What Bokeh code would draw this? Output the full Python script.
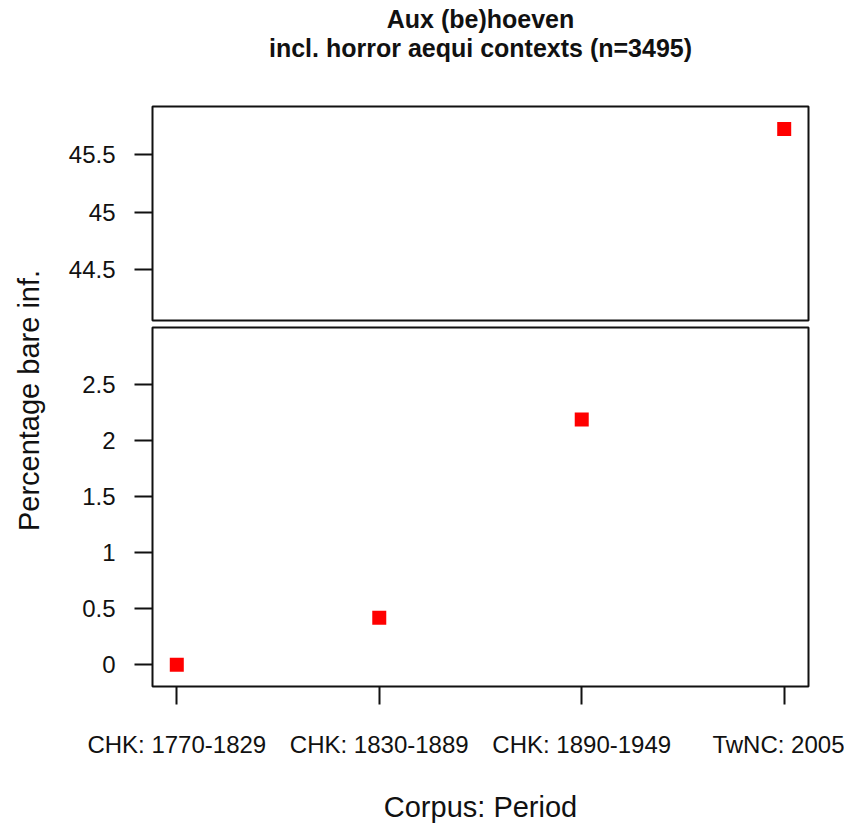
import math
from bokeh.plotting import figure
from bokeh.models import Range1d, FixedTicker, Label
from bokeh.layouts import row, column
from bokeh.embed import file_html
from bokeh.resources import INLINE

# ---- data ----
periods = ["CHK: 1770-1829", "CHK: 1830-1889", "CHK: 1890-1949", "TwNC: 2005"]
pct_bare = [0.0, 0.42, 2.19, 45.72]
lower_ticks = [0, 0.5, 1, 1.5, 2, 2.5]
upper_ticks = [44.5, 45, 45.5]
lower_lim = (-0.194, 3.012)
upper_lim = (44.058, 45.916)
title_lines = ["Aux (be)hoeven", "incl. horror aequi contexts (n=3495)"]
x_label = "Corpus: Period"
y_label = "Percentage bare inf."

FONT = "Liberation Sans"
INK = "#111111"
xpos = list(range(1, len(periods) + 1))

lo_x = [x for x, v in zip(xpos, pct_bare) if v <= lower_lim[1]]
lo_y = [v for v in pct_bare if v <= lower_lim[1]]
hi_x = [x for x, v in zip(xpos, pct_bare) if v >= upper_lim[0]]
hi_y = [v for v in pct_bare if v >= upper_lim[0]]

xr = Range1d(0.88, 4.12)


def style_y(p, ticks):
    ax = p.yaxis[0]
    ax.ticker = FixedTicker(ticks=ticks)
    ax.major_label_overrides = {t: ("%g" % t) for t in ticks}
    ax.axis_line_color = None
    ax.major_tick_in = 0
    ax.major_tick_out = 18
    ax.major_tick_line_width = 2
    ax.major_tick_line_color = INK
    ax.minor_tick_line_color = None
    ax.major_label_standoff = 19
    ax.major_label_text_font = FONT
    ax.major_label_text_font_size = "24px"
    ax.major_label_text_color = INK


def base(p):
    p.grid.visible = False
    p.outline_line_color = INK
    p.outline_line_width = 2
    p.background_fill_color = "white"
    p.border_fill_color = "white"


def blank(w, h):
    p = figure(width=w, height=h, x_axis_type=None, y_axis_type=None,
               toolbar_location=None, output_backend="svg", min_border=0,
               x_range=Range1d(0, 1), y_range=Range1d(0, 1))
    p.outline_line_color = None
    p.grid.visible = False
    return p


# ---- title strip ----
p_title = blank(844, 64)
for t, yy in zip(title_lines, [46, 17]):
    p_title.add_layout(Label(x=480, y=yy, x_units="screen", y_units="screen",
                             text=t, text_align="center", text_baseline="middle",
                             text_font=FONT, text_font_size="25px",
                             text_font_style="bold", text_color=INK))

# ---- left strip holding the shared y label ----
p_lab = blank(48, 761)
p_lab.add_layout(Label(x=28, y=425, x_units="screen", y_units="screen",
                       text=y_label, angle=math.pi / 2, text_align="center",
                       text_baseline="middle", text_font=FONT,
                       text_font_size="29px", text_color=INK))

# ---- upper panel ----
p1 = figure(width=796, height=259, x_range=xr, y_range=Range1d(*upper_lim),
            x_axis_location=None, toolbar_location=None, output_backend="svg",
            min_border_left=104, min_border_right=36, min_border_top=42,
            min_border_bottom=3)
base(p1)
style_y(p1, upper_ticks)
p1.scatter(hi_x, hi_y, marker="square", size=14, color="red", line_color=None)

# ---- lower panel ----
p2 = figure(width=796, height=502, x_range=xr, y_range=Range1d(*lower_lim),
            toolbar_location=None, output_backend="svg",
            min_border_left=104, min_border_right=36, min_border_top=4,
            min_border_bottom=135)
base(p2)
style_y(p2, lower_ticks)
p2.scatter(lo_x, lo_y, marker="square", size=14, color="red", line_color=None)
xa = p2.xaxis[0]
xa.ticker = FixedTicker(ticks=xpos)
xa.major_label_overrides = {x: lab for x, lab in zip(xpos, periods)}
xa.axis_line_color = None
xa.major_tick_in = 0
xa.major_tick_out = 18
xa.major_tick_line_width = 2
xa.major_tick_line_color = INK
xa.minor_tick_line_color = None
xa.major_label_standoff = 26
xa.major_label_text_font = FONT
xa.major_label_text_font_size = "24px"
xa.major_label_text_color = INK
xa.axis_label = x_label
xa.axis_label_text_font = FONT
xa.axis_label_text_font_size = "29px"
xa.axis_label_text_font_style = "normal"
xa.axis_label_text_color = INK
xa.axis_label_standoff = 30

layout = column(p_title, row(p_lab, column(p1, p2)))
open("out.html", "w").write(file_html(layout, INLINE))
